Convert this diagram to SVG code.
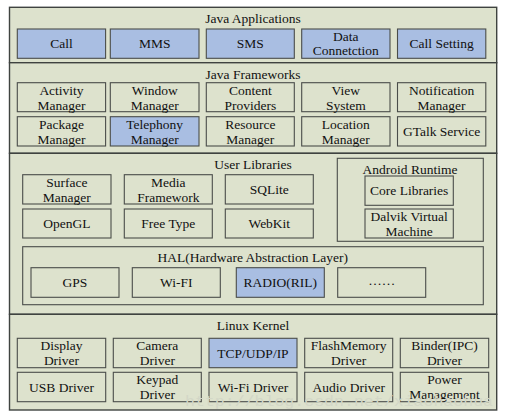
<svg xmlns="http://www.w3.org/2000/svg" width="505" height="419" viewBox="0 0 505 419">
<style>
.layer{fill:#dde2cd;stroke:#3f4340;stroke-width:1.4}
.box{fill:#dde2cd;stroke:#4a4d4a;stroke-width:1.1}
.hl{fill:#a9bee2;stroke:#4a4d4a;stroke-width:1.1}
text{font-family:"Liberation Serif","Times New Roman",serif;font-size:13.5px;fill:#111;text-anchor:middle}
.wm{font-family:"Liberation Mono",monospace;font-size:15px;fill:#d3d7c7;text-anchor:start}
</style>
<rect width="505" height="419" fill="#ffffff"/>
<g id="layer-apps"><rect class="layer" x="9.5" y="7.3" width="487.2" height="55.4"/><text x="253" y="22.5">Java Applications</text></g>
<g id="layer-frameworks"><rect class="layer" x="9.5" y="62.7" width="487.2" height="90.6"/><text x="253" y="78.5">Java Frameworks</text></g>
<g id="layer-user"><rect class="layer" x="9.5" y="153.3" width="487.2" height="161"/><text x="253" y="168.5">User Libraries</text></g>
<g id="layer-kernel"><rect class="layer" x="9.5" y="314.3" width="487.2" height="95.7"/><text x="253" y="329.5">Linux Kernel</text></g>

<g id="call"><rect class="hl" x="17.3" y="29" width="88.3" height="29.3"/><text x="61.5" y="48">Call</text></g>
<g id="mms"><rect class="hl" x="110.3" y="29" width="88.7" height="29.3"/><text x="154.7" y="48">MMS</text></g>
<g id="sms"><rect class="hl" x="206.3" y="29" width="88" height="29.3"/><text x="250.3" y="48">SMS</text></g>
<g id="data"><rect class="hl" x="301.7" y="29" width="88.3" height="29.3"/><text x="345.8" y="40.5">Data</text><text x="345.8" y="55">Connetction</text></g>
<g id="callsetting"><rect class="hl" x="397.5" y="29" width="88.3" height="29.3"/><text x="441.6" y="48">Call Setting</text></g>

<g id="activity"><rect class="box" x="17.3" y="82.7" width="88.3" height="29"/><text x="61.5" y="94.5">Activity</text><text x="61.5" y="109.5">Manager</text></g>
<g id="window"><rect class="box" x="110.3" y="82.7" width="88.7" height="29"/><text x="154.7" y="94.5">Window</text><text x="154.7" y="109.5">Manager</text></g>
<g id="content"><rect class="box" x="206.3" y="82.7" width="88" height="29"/><text x="250.3" y="94.5">Content</text><text x="250.3" y="109.5">Providers</text></g>
<g id="view"><rect class="box" x="301.7" y="82.7" width="88.3" height="29"/><text x="345.8" y="94.5">View</text><text x="345.8" y="109.5">System</text></g>
<g id="notification"><rect class="box" x="397.5" y="82.7" width="88.3" height="29"/><text x="441.6" y="94.5">Notification</text><text x="441.6" y="109.5">Manager</text></g>

<g id="package"><rect class="box" x="17.3" y="116.7" width="88.3" height="29.3"/><text x="61.5" y="128.5">Package</text><text x="61.5" y="143.5">Manager</text></g>
<g id="telephony"><rect class="hl" x="110.3" y="116.7" width="88.7" height="29.3"/><text x="154.7" y="128.5">Telephony</text><text x="154.7" y="143.5">Manager</text></g>
<g id="resource"><rect class="box" x="206.3" y="116.7" width="88" height="29.3"/><text x="250.3" y="128.5">Resource</text><text x="250.3" y="143.5">Manager</text></g>
<g id="location"><rect class="box" x="301.7" y="116.7" width="88.3" height="29.3"/><text x="345.8" y="128.5">Location</text><text x="345.8" y="143.5">Manager</text></g>
<g id="gtalk"><rect class="box" x="397.5" y="116.7" width="88.3" height="29.3"/><text x="441.6" y="136">GTalk Service</text></g>

<g id="surface"><rect class="box" x="22.7" y="174.7" width="88.3" height="29.3"/><text x="66.8" y="186.5">Surface</text><text x="66.8" y="201.5">Manager</text></g>
<g id="media"><rect class="box" x="124.3" y="174.7" width="88" height="29.3"/><text x="168.3" y="186.5">Media</text><text x="168.3" y="201.5">Framework</text></g>
<g id="sqlite"><rect class="box" x="225.3" y="174.7" width="88" height="29.3"/><text x="269.3" y="193.5">SQLite</text></g>
<g id="opengl"><rect class="box" x="22.7" y="209" width="88.3" height="29"/><text x="66.8" y="228">OpenGL</text></g>
<g id="freetype"><rect class="box" x="124.3" y="209" width="88" height="29"/><text x="168.3" y="228">Free Type</text></g>
<g id="webkit"><rect class="box" x="225.3" y="209" width="88" height="29"/><text x="269.3" y="228">WebKit</text></g>

<g id="runtime"><rect class="box" x="337.3" y="158.3" width="146" height="83"/><text x="410" y="174">Android Runtime</text></g>
<g id="corelib"><rect class="box" x="365" y="176" width="88.3" height="29.3"/><text x="409.2" y="195">Core Libraries</text></g>
<g id="dalvik"><rect class="box" x="365" y="209" width="88.3" height="29"/><text x="409.2" y="220.5">Dalvik Virtual</text><text x="409.2" y="235.5">Machine</text></g>

<g id="hal"><rect class="box" x="22.7" y="246.7" width="460.6" height="58"/><text x="252.7" y="262">HAL(Hardware Abstraction Layer)</text></g>
<g id="gps"><rect class="box" x="31" y="267.7" width="88" height="29.6"/><text x="75" y="287">GPS</text></g>
<g id="wifi"><rect class="box" x="132.3" y="267.7" width="88" height="29.6"/><text x="176.3" y="287">Wi-FI</text></g>
<g id="radio"><rect class="hl" x="236.3" y="267.7" width="88" height="29.6"/><text x="280.3" y="287">RADIO(RIL)</text></g>
<g id="more"><rect class="box" x="337.7" y="267.7" width="88" height="29.6"/><text x="381.7" y="285">……</text></g>

<g id="display"><rect class="box" x="17.3" y="338.3" width="88.4" height="29.4"/><text x="61.5" y="350">Display</text><text x="61.5" y="365">Driver</text></g>
<g id="camera"><rect class="box" x="113.3" y="338.3" width="88" height="29.4"/><text x="157.3" y="350">Camera</text><text x="157.3" y="365">Driver</text></g>
<g id="tcp"><rect class="hl" x="209" y="338.3" width="88" height="29.4"/><text x="253" y="357.5">TCP/UDP/IP</text></g>
<g id="flash"><rect class="box" x="304.7" y="338.3" width="88" height="29.4"/><text x="348.7" y="350">FlashMemory</text><text x="348.7" y="365">Driver</text></g>
<g id="binder"><rect class="box" x="400.3" y="338.3" width="88.4" height="29.4"/><text x="444.5" y="350">Binder(IPC)</text><text x="444.5" y="365">Driver</text></g>
<g id="usb"><rect class="box" x="17.3" y="372.3" width="88.4" height="29.4"/><text x="61.5" y="391.5">USB Driver</text></g>
<g id="keypad"><rect class="box" x="113.3" y="372.3" width="88" height="29.4"/><text x="157.3" y="384">Keypad</text><text x="157.3" y="399">Driver</text></g>
<g id="wifidriver"><rect class="box" x="209" y="372.3" width="88" height="29.4"/><text x="253" y="391.5">Wi-Fi Driver</text></g>
<g id="audio"><rect class="box" x="304.7" y="372.3" width="88" height="29.4"/><text x="348.7" y="391.5">Audio Driver</text></g>
<g id="power"><rect class="box" x="400.3" y="372.3" width="88.4" height="29.4"/><text x="444.5" y="384">Power</text><text x="444.5" y="399">Management</text></g>

<g id="connectors"></g>
<text class="wm" x="185" y="406" textLength="308" lengthAdjust="spacingAndGlyphs">http://blog.csdn.net/xiaohaohua</text>
</svg>
